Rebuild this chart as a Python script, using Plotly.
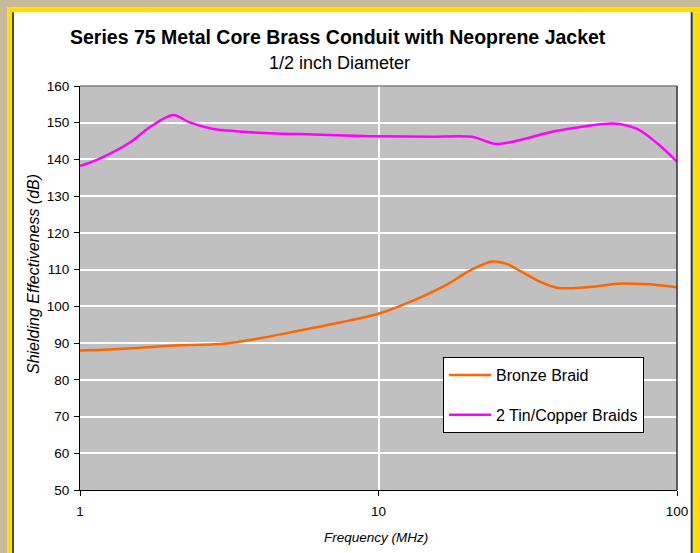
import plotly.graph_objects as go

# ---- data ----
freq_tin = [1, 1.17, 1.47, 1.72, 2.05, 2.33, 2.79, 3.11, 4.1, 6.04, 8.87, 10, 15, 20.6, 24.9, 39.6, 61, 73.5, 85.8, 100]
tin_copper = [138.2, 140.3, 144.6, 148.9, 152.1, 150.1, 148.3, 147.9, 147.2, 146.8, 146.4, 146.3, 146.2, 146.2, 144.2, 147.8, 149.8, 148.3, 144.4, 139.4]

freq_bronze = [1, 1.2, 1.5, 2, 3, 4, 5.5, 7.5, 10, 13, 17, 20, 24, 27, 30, 35, 40, 50, 65, 80, 100]
bronze = [88.0, 88.2, 88.6, 89.3, 89.8, 91.3, 93.5, 95.7, 98.0, 101.5, 106.0, 109.5, 112.2, 111.5, 109.5, 106.6, 105.0, 105.2, 106.2, 106.0, 105.2]

series_names = ["Bronze Braid", "2 Tin/Copper Braids"]
x_ticks = [1, 10, 100]
x_tick_labels = ["1", "10", "100"]
y_ticks = list(range(50, 161, 10))

title_text = "Series 75 Metal Core Brass Conduit with Neoprene Jacket"
subtitle_text = "1/2 inch Diameter"
x_title = "Frequency (MHz)"
y_title = "Shielding Effectiveness (dB)"

# ---- layout geometry ----
W, H = 700, 553
L, R, T, B = 80, 23, 86, 63
PW, PH = W - L - R, H - T - B

def px(x):
    return (x - L) / PW

def py(y):
    return 1 - (y - T) / PH

FONT = "Liberation Sans, Arial, sans-serif"

fig = go.Figure()
fig.add_trace(go.Scatter(x=freq_bronze, y=bronze, mode="lines", name=series_names[0],
                         line=dict(color="#FF6600", width=2.5, shape="spline", smoothing=0.8),
                         legendgroup="a"))
fig.add_trace(go.Scatter(x=freq_tin, y=tin_copper, mode="lines", name=series_names[1],
                         line=dict(color="#FF00FF", width=2.5, shape="spline", smoothing=0.8),
                         legendgroup="b"))

shapes = []
def rect(x0, y0, x1, y1, color):
    shapes.append(dict(type="rect", xref="paper", yref="paper",
                       x0=px(x0), x1=px(x1), y0=py(y0), y1=py(y1),
                       fillcolor=color, line=dict(width=0), layer="below"))

TAN = "#C6BA98"
YEL = "#FFDD00"
rect(0, 0, W, 7.3, TAN)
rect(0, 0, 7.3, H, TAN)
rect(7.3, 7.3, W, 12.3, YEL)
rect(7.3, 7.3, 12.3, H, YEL)
rect(12.3, 12.3, 13.7, H, "#000000")
rect(692.7, 12.3, W, H, YEL)
rect(690.7, 12.3, 692.7, H, "#333333")
# top and right plot border
shapes.append(dict(type="line", xref="paper", yref="paper", x0=0, x1=1, y0=1, y1=1,
                   line=dict(color="#808080", width=1.5)))
shapes.append(dict(type="line", xref="paper", yref="paper", x0=1, x1=1, y0=0, y1=1,
                   line=dict(color="#333333", width=1.5)))

annotations = [
    dict(text="<b>" + title_text + "</b>", xref="paper", yref="paper",
         x=px(338), y=py(37), xanchor="center", yanchor="middle", showarrow=False,
         font=dict(family=FONT, size=19.5, color="#000000")),
    dict(text=subtitle_text, xref="paper", yref="paper",
         x=px(339), y=py(63), xanchor="center", yanchor="middle", showarrow=False,
         font=dict(family=FONT, size=18, color="#000000")),
    dict(text="<i>" + x_title + "</i>", xref="paper", yref="paper",
         x=px(376), y=py(537), xanchor="center", yanchor="middle", showarrow=False,
         font=dict(family=FONT, size=13.5, color="#000000")),
    dict(text="<i>" + y_title + "</i>", xref="paper", yref="paper",
         x=px(33), y=py(274), xanchor="center", yanchor="middle", showarrow=False,
         textangle=-90, font=dict(family=FONT, size=16, color="#000000")),
]

fig.update_layout(
    width=W, height=H,
    margin=dict(l=L, r=R, t=T, b=B, pad=0),
    paper_bgcolor="#FFFFFF",
    plot_bgcolor="#C0C0C0",
    font=dict(family=FONT, size=13.5, color="#000000"),
    showlegend=True,
    legend=dict(x=px(443), y=py(357), xanchor="left", yanchor="top",
                bgcolor="#FFFFFF", bordercolor="#000000", borderwidth=1,
                font=dict(family=FONT, size=16, color="#000000"),
                traceorder="grouped", tracegroupgap=16,
                itemwidth=42),
    shapes=shapes,
    annotations=annotations,
)

fig.update_xaxes(type="log", range=[0, 2], tickvals=x_ticks, ticktext=x_tick_labels,
                 ticks="outside", ticklen=5, tickcolor="#000000",
                 showline=True, linecolor="#000000", linewidth=1,
                 showgrid=True, gridcolor="#FFFFFF", gridwidth=1.5,
                 zeroline=False, tickfont=dict(size=13.5), ticklabelstandoff=4)
fig.update_yaxes(range=[50, 160], tickvals=y_ticks,
                 ticks="outside", ticklen=5, tickcolor="#000000",
                 showline=True, linecolor="#000000", linewidth=1,
                 showgrid=True, gridcolor="#FFFFFF", gridwidth=1.5,
                 zeroline=False, tickfont=dict(size=13.5), ticklabelstandoff=2)

fig.write_html("out.html", config={"displayModeBar": False},
               post_script="document.body.style.margin='0';")
